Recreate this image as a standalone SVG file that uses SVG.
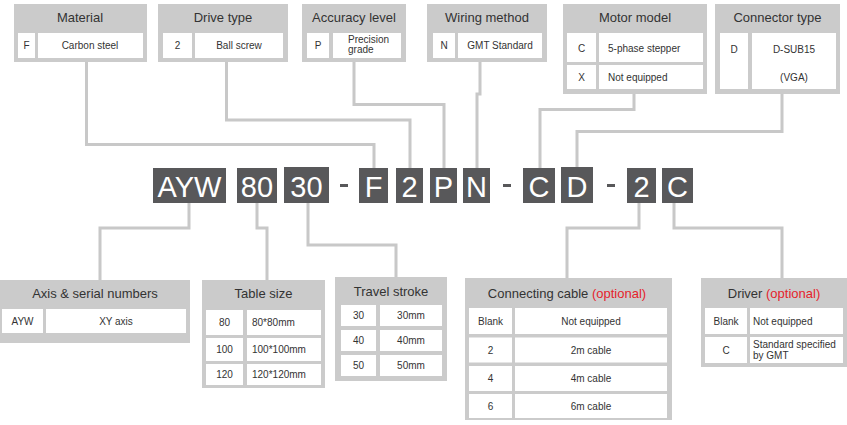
<svg xmlns="http://www.w3.org/2000/svg" width="847" height="425" viewBox="0 0 847 425">
<style>
.box{fill:#cbcbcb}
.cell{fill:#ffffff}
.hd{font-family:"Liberation Sans",Arial,sans-serif;font-size:13px;fill:#333;text-anchor:middle}
.tx{font-family:"Liberation Sans",Arial,sans-serif;font-size:10px;fill:#333;text-anchor:middle}
.tl{font-family:"Liberation Sans",Arial,sans-serif;font-size:10px;fill:#333}
.red{fill:#e5232b}
.code{fill:#58585a}
.ct{font-family:"Liberation Sans",Arial,sans-serif;font-size:29px;fill:#ffffff;text-anchor:middle}
.ln{fill:none;stroke:#c8c8c8;stroke-width:3}
</style>
<rect width="847" height="425" fill="#ffffff"/>
<g id="connectors">
<path class="ln" d="M86.5 62V144.5H374V168"/>
<path class="ln" d="M226.5 62V120H410V168"/>
<path class="ln" d="M354 62V104.5H444V168"/>
<path class="ln" d="M480 62V94H477V168"/>
<path class="ln" d="M634 93V109.5H540V168"/>
<path class="ln" d="M782 93V131.5H577V167"/>
<path class="ln" d="M189 203V228H100V280"/>
<path class="ln" d="M257 203V228H267V280"/>
<path class="ln" d="M308 203V245H396V277"/>
<path class="ln" d="M639 203V228H567V278"/>
<path class="ln" d="M674 203V228H782V278"/>
</g>
<g id="material">
<rect class="box" x="14" y="4" width="133" height="58"/>
<text class="hd" x="80" y="21.5">Material</text>
<rect class="cell" x="18" y="33" width="17" height="25"/>
<rect class="cell" x="38" y="33" width="105" height="25"/>
<text class="tx" x="26.5" y="49">F</text>
<text class="tx" x="90" y="49">Carbon steel</text>
</g>
<g id="drive-type">
<rect class="box" x="158" y="4" width="130" height="58"/>
<text class="hd" x="223" y="21.5">Drive type</text>
<rect class="cell" x="163" y="33" width="29" height="25"/>
<rect class="cell" x="195" y="33" width="88" height="25"/>
<text class="tx" x="177.5" y="49">2</text>
<text class="tx" x="239" y="49">Ball screw</text>
</g>
<g id="accuracy-level">
<rect class="box" x="302" y="4" width="104" height="58"/>
<text class="hd" x="354" y="21.5">Accuracy level</text>
<rect class="cell" x="307" y="33" width="22" height="25"/>
<rect class="cell" x="333" y="33" width="68" height="25"/>
<text class="tx" x="318" y="49">P</text>
<text class="tl" x="348" y="42.5">Precision</text>
<text class="tl" x="348" y="52.5">grade</text>
</g>
<g id="wiring-method">
<rect class="box" x="427" y="4" width="120" height="58"/>
<text class="hd" x="487" y="21.5">Wiring method</text>
<rect class="cell" x="433" y="33" width="22" height="25"/>
<rect class="cell" x="458" y="33" width="84" height="25"/>
<text class="tx" x="444" y="49">N</text>
<text class="tx" x="500" y="49">GMT Standard</text>
</g>
<g id="motor-model">
<rect class="box" x="563" y="4" width="144" height="90"/>
<text class="hd" x="635" y="21.5">Motor model</text>
<rect class="cell" x="567" y="33" width="29" height="29"/>
<rect class="cell" x="599" y="33" width="104" height="29"/>
<rect class="cell" x="567" y="65" width="29" height="24"/>
<rect class="cell" x="599" y="65" width="104" height="24"/>
<text class="tx" x="581.5" y="52">C</text>
<text class="tl" x="608" y="52">5-phase stepper</text>
<text class="tx" x="581.5" y="80.5">X</text>
<text class="tl" x="608" y="80.5">Not equipped</text>
</g>
<g id="connector-type">
<rect class="box" x="715" y="4" width="125" height="90"/>
<text class="hd" x="777.5" y="21.5">Connector type</text>
<rect class="cell" x="720" y="33" width="28" height="56"/>
<rect class="cell" x="752" y="33" width="84" height="56"/>
<text class="tx" x="734" y="53">D</text>
<text class="tx" x="794" y="53">D-SUB15</text>
<text class="tx" x="794" y="80.5">(VGA)</text>
</g>
<g id="code">
<rect class="code" x="153" y="168" width="73" height="35"/>
<text class="ct" x="189.5" y="196.5">AYW</text>
<rect class="code" x="237" y="168" width="40" height="35"/>
<text class="ct" x="257" y="196.5">80</text>
<rect class="code" x="284" y="167" width="45" height="36"/>
<text class="ct" x="306.5" y="196.5">30</text>
<rect class="code" x="340" y="184" width="8" height="3"/>
<rect class="code" x="359" y="168" width="29" height="35"/>
<text class="ct" x="373.5" y="196.5">F</text>
<rect class="code" x="396" y="168" width="27" height="35"/>
<text class="ct" x="409.5" y="196.5">2</text>
<rect class="code" x="430" y="168" width="27" height="35"/>
<text class="ct" x="443.5" y="196.5">P</text>
<rect class="code" x="463" y="168" width="27" height="35"/>
<text class="ct" x="476.5" y="196.5">N</text>
<rect class="code" x="503" y="184" width="8" height="3"/>
<rect class="code" x="523" y="168" width="32" height="35"/>
<text class="ct" x="539" y="196.5">C</text>
<rect class="code" x="561" y="167" width="32" height="36"/>
<text class="ct" x="577" y="196.5">D</text>
<rect class="code" x="607" y="184" width="8" height="3"/>
<rect class="code" x="627" y="168" width="29" height="35"/>
<text class="ct" x="641.5" y="196.5">2</text>
<rect class="code" x="662" y="168" width="31" height="35"/>
<text class="ct" x="677.5" y="196.5">C</text>
</g>
<g id="axis-serial">
<rect class="box" x="0" y="280" width="190" height="63"/>
<text class="hd" x="95" y="297.5">Axis &amp; serial numbers</text>
<rect class="cell" x="2" y="309" width="41" height="24"/>
<rect class="cell" x="46" y="309" width="140" height="24"/>
<text class="tx" x="22.5" y="325">AYW</text>
<text class="tx" x="116" y="325">XY axis</text>
</g>
<g id="table-size">
<rect class="box" x="202" y="280" width="123" height="108"/>
<text class="hd" x="263.5" y="297.5">Table size</text>
<rect class="cell" x="206" y="310" width="37" height="25"/>
<rect class="cell" x="247" y="310" width="74" height="25"/>
<rect class="cell" x="206" y="338" width="37" height="23"/>
<rect class="cell" x="247" y="338" width="74" height="23"/>
<rect class="cell" x="206" y="364" width="37" height="21"/>
<rect class="cell" x="247" y="364" width="74" height="21"/>
<text class="tx" x="224.5" y="326">80</text>
<text class="tl" x="252" y="326">80*80mm</text>
<text class="tx" x="224.5" y="353">100</text>
<text class="tl" x="252" y="353">100*100mm</text>
<text class="tx" x="224.5" y="378">120</text>
<text class="tl" x="252" y="378">120*120mm</text>
</g>
<g id="travel-stroke">
<rect class="box" x="335" y="277" width="112" height="104"/>
<text class="hd" x="391" y="296">Travel stroke</text>
<rect class="cell" x="341" y="305" width="35" height="21"/>
<rect class="cell" x="380" y="305" width="62" height="21"/>
<rect class="cell" x="341" y="330" width="35" height="21"/>
<rect class="cell" x="380" y="330" width="62" height="21"/>
<rect class="cell" x="341" y="355" width="35" height="21"/>
<rect class="cell" x="380" y="355" width="62" height="21"/>
<text class="tx" x="358.5" y="319">30</text>
<text class="tx" x="411" y="319">30mm</text>
<text class="tx" x="358.5" y="344">40</text>
<text class="tx" x="411" y="344">40mm</text>
<text class="tx" x="358.5" y="369">50</text>
<text class="tx" x="411" y="369">50mm</text>
</g>
<g id="connecting-cable">
<rect class="box" x="465" y="278" width="207" height="142"/>
<text class="hd" x="567" y="297.5">Connecting cable <tspan class="red">(optional)</tspan></text>
<rect class="cell" x="469" y="308" width="43" height="26"/>
<rect class="cell" x="515" y="308" width="152" height="26"/>
<rect class="cell" x="469" y="337.5" width="43" height="25"/>
<rect class="cell" x="515" y="337.5" width="152" height="25"/>
<rect class="cell" x="469" y="366" width="43" height="25"/>
<rect class="cell" x="515" y="366" width="152" height="25"/>
<rect class="cell" x="469" y="394" width="43" height="24"/>
<rect class="cell" x="515" y="394" width="152" height="24"/>
<text class="tx" x="490.5" y="325">Blank</text>
<text class="tx" x="591" y="325">Not equipped</text>
<text class="tx" x="490.5" y="354">2</text>
<text class="tx" x="591" y="354">2m cable</text>
<text class="tx" x="490.5" y="382">4</text>
<text class="tx" x="591" y="382">4m cable</text>
<text class="tx" x="490.5" y="410">6</text>
<text class="tx" x="591" y="410">6m cable</text>
</g>
<g id="driver">
<rect class="box" x="701" y="278" width="146" height="89"/>
<text class="hd" x="774" y="297.5">Driver <tspan class="red">(optional)</tspan></text>
<rect class="cell" x="705" y="308" width="42" height="26"/>
<rect class="cell" x="750" y="308" width="93" height="26"/>
<rect class="cell" x="705" y="337" width="42" height="26"/>
<rect class="cell" x="750" y="337" width="93" height="26"/>
<text class="tx" x="726" y="325">Blank</text>
<text class="tl" x="753" y="325">Not equipped</text>
<text class="tx" x="726" y="354">C</text>
<text class="tl" x="753" y="347.5">Standard specified</text>
<text class="tl" x="753" y="358.5">by GMT</text>
</g>
</svg>
